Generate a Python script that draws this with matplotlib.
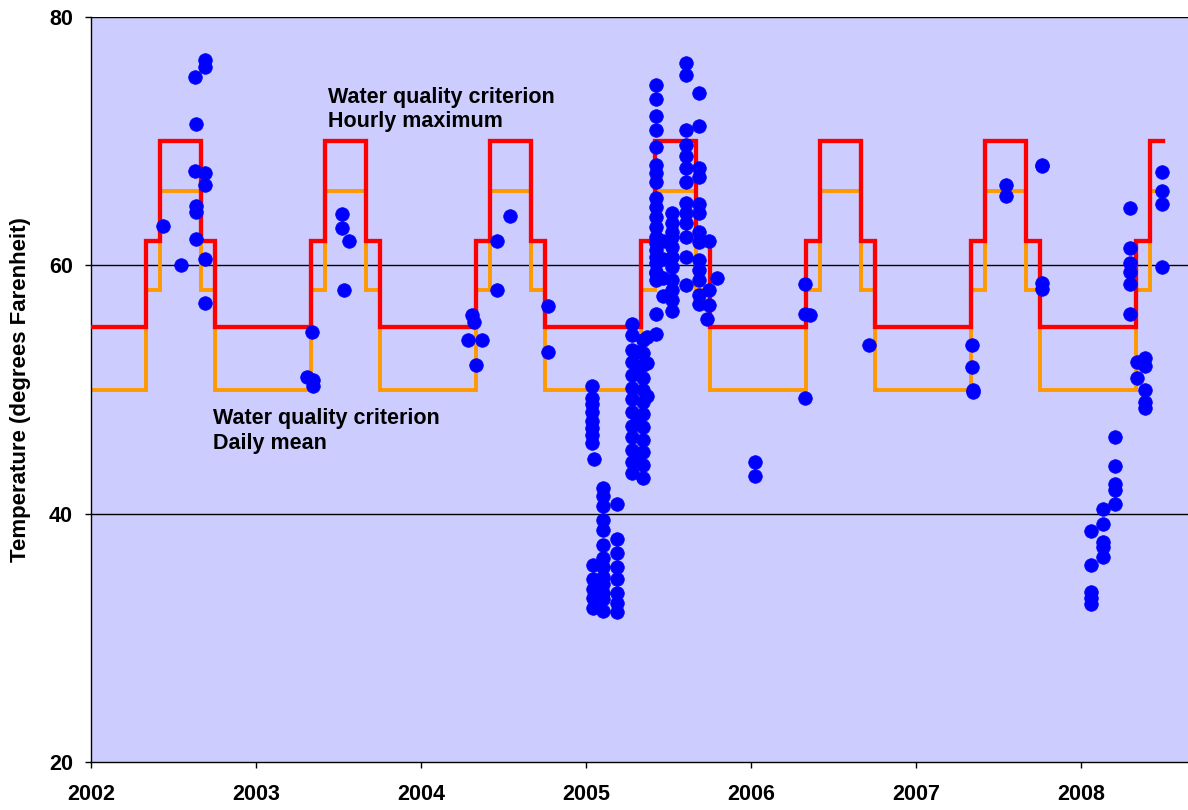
import matplotlib
matplotlib.use("Agg")
import matplotlib.pyplot as plt
import numpy as np

plt.rcParams['font.family'] = ['Liberation Sans', 'DejaVu Sans']
plt.rcParams['font.weight'] = 'bold'

# water quality criteria by calendar month (Jan..Dec), degrees F
hourly_max_by_month = [55, 55, 55, 55, 62, 70, 70, 70, 62, 55, 55, 55]
daily_mean_by_month = [50, 50, 50, 50, 58, 66, 66, 66, 58, 50, 50, 50]
crit_years = [2002, 2003, 2004, 2005, 2006, 2007, 2008]
crit_end = 2008.5

# observed temperatures (decimal year, deg F)
obs_2002_t = [2002.436, 2002.545, 2002.630, 2002.636, 2002.630, 2002.636, 2002.636, 2002.636,
              2002.691, 2002.691, 2002.691, 2002.691, 2002.691, 2002.691]
obs_2002_v = [63.2, 60.0, 75.2, 71.4, 67.6, 64.8, 64.3, 62.1, 76.5, 76.0, 67.4, 66.5, 60.5, 57.0]

obs_2003_t = [2003.339, 2003.307, 2003.347, 2003.344, 2003.523, 2003.523, 2003.562, 2003.532]
obs_2003_v = [54.6, 51.0, 50.8, 50.3, 64.1, 63.0, 62.0, 58.0]

obs_2004_t = [2004.283, 2004.307, 2004.323, 2004.333, 2004.368, 2004.459, 2004.459, 2004.539,
              2004.772, 2004.772]
obs_2004_v = [54.0, 56.0, 55.4, 52.0, 54.0, 62.0, 58.0, 64.0, 56.7, 53.0]

obs_2005w_t = ([2005.035] * 8 + [2005.052] + [2005.101] * 13 + [2005.044] * 5
               + [2005.186] + [2005.190] * 7)
obs_2005w_v = [50.3, 49.3, 48.8, 48.2, 47.5, 46.9, 46.3, 45.7, 44.4,
               42.1, 41.4, 40.6, 39.5, 38.7, 37.5, 36.4, 35.7, 34.9, 34.3, 33.6, 33.1, 32.2,
               35.9, 34.7, 33.9, 33.2, 32.4,
               40.8,
               38.0, 36.8, 35.7, 34.7, 33.6, 32.8, 32.1]

obs_2005s_t = ([2005.278] * 13 + [2005.345] * 12 + [2005.312] * 4 + [2005.370] * 3
               + [2005.428] * 2)
obs_2005s_v = [55.3, 54.4, 53.2, 52.2, 51.2, 50.1, 49.2, 48.2, 47.1, 46.2, 45.1, 44.2, 43.3,
               54.0, 52.9, 52.0, 50.9, 50.0, 49.0, 48.0, 47.0, 45.9, 45.0, 43.9, 42.9,
               53.0, 51.5, 47.5, 44.5,
               54.2, 52.1, 49.5,
               56.1, 54.5]

obs_2005u_t = ([2005.428] * 20 + [2005.468] * 4 + [2005.519] * 11 + [2005.604] * 13
               + [2005.685] * 13 + [2005.747] * 3 + [2005.735, 2005.792])
obs_2005u_v = [74.5, 73.4, 72.0, 70.9, 69.5, 68.1, 67.4, 66.7, 65.4, 64.7, 63.9, 63.1, 62.3,
               61.8, 61.2, 60.7, 60.2, 59.4, 58.8, 59.5,
               62.0, 60.5, 59.0, 57.5,
               64.2, 63.4, 62.7, 62.3, 61.5, 60.7, 59.9, 58.8, 58.0, 57.2, 56.3,
               76.3, 75.3, 70.9, 69.7, 68.8, 67.8, 66.7, 65.0, 64.2, 63.4, 62.3, 60.7, 58.4,
               73.9, 71.2, 67.8, 67.1, 64.9, 64.2, 62.7, 61.9, 60.4, 59.6, 58.8, 57.6, 56.9,
               62.0, 58.0, 56.8, 55.7, 59.0]

obs_2006_t = [2006.028, 2006.028, 2006.327, 2006.327, 2006.358, 2006.331, 2006.715]
obs_2006_v = [44.2, 43.0, 58.5, 56.1, 56.0, 49.3, 53.6]

obs_2007_t = [2007.341, 2007.341, 2007.345, 2007.345, 2007.544, 2007.544, 2007.765, 2007.765,
              2007.762, 2007.762]
obs_2007_v = [53.6, 51.8, 50.0, 49.8, 66.5, 65.6, 68.0, 68.1, 58.6, 58.1]

obs_2008_t = ([2008.059] * 5 + [2008.135] * 5 + [2008.210] * 5 + [2008.297] * 6
              + [2008.343] * 2 + [2008.388] * 5 + [2008.495] * 4)
obs_2008_v = [38.6, 35.9, 33.7, 33.2, 32.7,
              40.4, 39.2, 37.7, 37.3, 36.5,
              46.2, 43.8, 42.4, 41.9, 40.8,
              64.6, 61.4, 60.2, 59.5, 58.5, 56.1,
              52.2, 50.9,
              52.5, 51.9, 50.0, 49.0, 48.5,
              67.5, 66.0, 64.9, 59.9]

obs_t = np.concatenate([obs_2002_t, obs_2003_t, obs_2004_t, obs_2005w_t, obs_2005s_t,
                        obs_2005u_t, obs_2006_t, obs_2007_t, obs_2008_t])
obs_v = np.concatenate([obs_2002_v, obs_2003_v, obs_2004_v, obs_2005w_v, obs_2005s_v,
                        obs_2005u_v, obs_2006_v, obs_2007_v, obs_2008_v])

# build monthly step series for the criteria
step_x, step_hi, step_lo = [], [], []
for y in crit_years:
    for m in range(12):
        x = y + m / 12.0
        if x >= crit_end:
            break
        step_x.append(x)
        step_hi.append(hourly_max_by_month[m])
        step_lo.append(daily_mean_by_month[m])
step_x.append(crit_end)
step_hi.append(step_hi[-1])
step_lo.append(step_lo[-1])

fig = plt.figure(figsize=(11.88, 8.10), dpi=100)
ax = fig.add_axes([91 / 1188, 48 / 810, 1097 / 1188, 745 / 810])
ax.set_facecolor('#CCCCFF')

for yv in [40, 60, 80]:
    ax.axhline(yv, color='black', lw=1.0, zorder=1)

ax.plot(step_x, step_lo, drawstyle='steps-post', color='#FF9900', lw=2.8,
        solid_joinstyle='miter', zorder=2)
ax.plot(step_x, step_hi, drawstyle='steps-post', color='#FF0000', lw=3.1,
        solid_joinstyle='miter', zorder=3)
ax.plot(obs_t, obs_v, 'o', color='#0000FF', ms=9.8, mec='#0000FF', mew=0.5, zorder=4)

ax.set_xlim(2002, 2008.65)
ax.set_ylim(20, 80)
ax.set_xticks(crit_years)
ax.set_xticklabels([str(y) for y in crit_years])
ax.set_yticks([20, 40, 60, 80])

for s in ['top', 'right']:
    ax.spines[s].set_visible(False)
for s in ['left', 'bottom']:
    ax.spines[s].set_color('black')
    ax.spines[s].set_linewidth(1.0)

ax.tick_params(axis='both', direction='out', length=4, width=1, labelsize=15.5)
ax.tick_params(axis='x', pad=12)
ax.tick_params(axis='y', pad=9)

fig.text(21 / 1188, 1 - 390 / 810, 'Temperature (degrees Farenheit)', rotation=90,
         ha='center', va='center', fontsize=16, fontweight='bold')

ax.text(2003.434, 73.10, 'Water quality criterion', fontsize=15.5, fontweight='bold',
        ha='left', va='baseline', zorder=5)
ax.text(2003.434, 71.14, 'Hourly maximum', fontsize=15.5, fontweight='bold',
        ha='left', va='baseline', zorder=5)
ax.text(2002.739, 47.22, 'Water quality criterion', fontsize=15.5, fontweight='bold',
        ha='left', va='baseline', zorder=5)
ax.text(2002.739, 45.21, 'Daily mean', fontsize=15.5, fontweight='bold',
        ha='left', va='baseline', zorder=5)

fig.savefig('out.png', dpi=100)
